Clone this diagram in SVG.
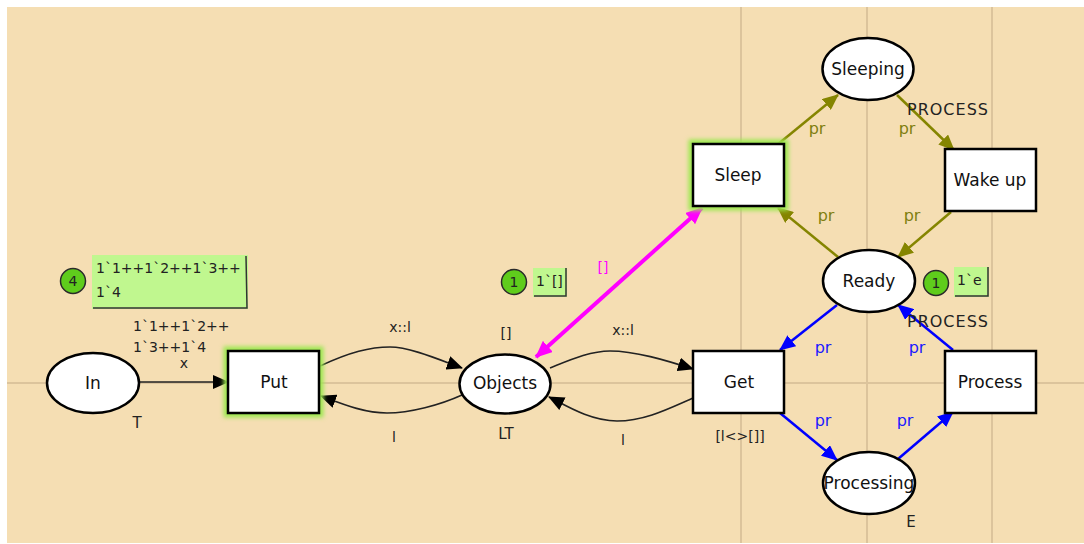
<svg xmlns="http://www.w3.org/2000/svg" width="1084" height="544" viewBox="0 0 1084 544">
<style>
.node{fill:#fff;stroke:#000;stroke-width:2.5}
.lbl{font-family:"DejaVu Sans",sans-serif;font-size:17px;fill:#111;text-anchor:middle}
.t{font-family:"DejaVu Sans",sans-serif;font-size:14px;fill:#222}
.c{text-anchor:middle}
.ol{fill:#7f7f10}
.bl{fill:#1a1aff}
.arcK{fill:none;stroke:#222;stroke-width:1.6}
.arcO{fill:none;stroke:#858500;stroke-width:2.5}
.arcB{fill:none;stroke:#0000ff;stroke-width:2.5}
.tokc{fill:#5fcc1c;stroke:#2a2a2a;stroke-width:1.5}
.tokb{fill:#c0f78f}
.tokl{fill:none;stroke:#333;stroke-width:1.5}
.glow{fill:none;stroke:#9be84f;stroke-width:9;filter:url(#blur)}
.grid{stroke:#dcc49c;stroke-width:2}
</style>
<defs>
<filter id="blur" x="-20%" y="-20%" width="140%" height="140%"><feGaussianBlur stdDeviation="2"/></filter>
<marker id="ak" viewBox="0 0 16 14" refX="15" refY="7" markerWidth="16" markerHeight="14" markerUnits="userSpaceOnUse" orient="auto"><path d="M0,0 L16,7 L0,14 z" fill="#000"/></marker>
<marker id="ao" viewBox="0 0 16 14" refX="15" refY="7" markerWidth="16" markerHeight="14" markerUnits="userSpaceOnUse" orient="auto"><path d="M0,0 L16,7 L0,14 z" fill="#858500"/></marker>
<marker id="ab" viewBox="0 0 16 14" refX="15" refY="7" markerWidth="16" markerHeight="14" markerUnits="userSpaceOnUse" orient="auto"><path d="M0,0 L16,7 L0,14 z" fill="#0000ff"/></marker>
<marker id="am" viewBox="0 0 16 14" refX="15" refY="7" markerWidth="17" markerHeight="15" markerUnits="userSpaceOnUse" orient="auto-start-reverse"><path d="M0,0 L16,7 L0,14 z" fill="#ff00ff"/></marker>
</defs>
<rect x="0" y="0" width="1084" height="544" fill="#fff"/>
<rect x="7" y="7" width="1077" height="536" fill="#f5deb3"/>
<g id="grid">
<line class="grid" x1="7" y1="383" x2="1084" y2="383"/>
<line class="grid" x1="741" y1="7" x2="741" y2="543"/>
<line class="grid" x1="867" y1="7" x2="867" y2="543"/>
<line class="grid" x1="992" y1="7" x2="992" y2="543"/>
</g>
<g id="connectors">
<line class="arcK" x1="139" y1="382" x2="228" y2="382" marker-end="url(#ak)"/>
<path class="arcK" d="M320,366 C350,352 370,347 390,347 C410,347 440,360 462,368" marker-end="url(#ak)"/>
<path class="arcK" d="M462,395 C440,405 410,413 387,413 C365,413 345,405 321,396" marker-end="url(#ak)"/>
<path class="arcK" d="M550,368 C570,360 590,351 610,351 C635,351 665,360 693,369" marker-end="url(#ak)"/>
<path class="arcK" d="M693,398 C670,408 645,421 617,421 C590,421 565,405 549,397" marker-end="url(#ak)"/>
<line x1="536" y1="357" x2="702" y2="208" stroke="#ff00ff" stroke-width="4" marker-start="url(#am)" marker-end="url(#am)"/>
<line class="arcO" x1="777" y1="145" x2="838" y2="95" marker-end="url(#ao)"/>
<line class="arcO" x1="897" y1="95" x2="954" y2="150" marker-end="url(#ao)"/>
<line class="arcO" x1="951" y1="212" x2="898" y2="257" marker-end="url(#ao)"/>
<line class="arcO" x1="838" y1="257" x2="778" y2="208" marker-end="url(#ao)"/>
<line class="arcB" x1="837" y1="305" x2="780" y2="350" marker-end="url(#ab)"/>
<line class="arcB" x1="780" y1="413" x2="837" y2="460" marker-end="url(#ab)"/>
<line class="arcB" x1="898" y1="459" x2="953" y2="412" marker-end="url(#ab)"/>
<line class="arcB" x1="953" y1="350" x2="898" y2="305" marker-end="url(#ab)"/>
<text class="t c" x="400" y="332">x::l</text>
<text class="t c" x="394" y="442">l</text>
<text class="t c" x="623" y="335">x::l</text>
<text class="t c" x="623" y="445">l</text>
<text class="t c" x="184" y="368">x</text>
<text class="t c" x="603" y="272" style="fill:#ff00ff;font-size:14px">[]</text>
<text class="t c ol" x="817" y="134" style="font-size:16px">pr</text>
<text class="t c ol" x="907" y="134" style="font-size:16px">pr</text>
<text class="t c ol" x="826" y="221" style="font-size:16px">pr</text>
<text class="t c ol" x="912" y="221" style="font-size:16px">pr</text>
<text class="t c bl" x="823" y="353" style="font-size:16px">pr</text>
<text class="t c bl" x="917" y="353" style="font-size:16px">pr</text>
<text class="t c bl" x="823" y="426" style="font-size:16px">pr</text>
<text class="t c bl" x="905" y="426" style="font-size:16px">pr</text>
</g>
<g id="In">
<ellipse class="node" cx="93" cy="383" rx="46" ry="30"/>
<text class="lbl" x="93" y="389">In</text>
<text class="t c" x="137" y="428" style="font-size:15px">T</text>
<g id="In-marking">
<circle class="tokc" cx="73" cy="281" r="12.5"/>
<text class="t c" x="73" y="286">4</text>
<rect class="tokb" x="92" y="255" width="156" height="54"/>
<polyline class="tokl" points="246,256 247,308 93,308"/>
<text class="t" x="96" y="273">1`1++1`2++1`3++</text>
<text class="t" x="96" y="297">1`4</text>
</g>
<text class="t" x="133" y="331">1`1++1`2++</text>
<text class="t" x="133" y="352">1`3++1`4</text>
</g>
<g id="Put">
<rect class="glow" x="228" y="351" width="91" height="62"/>
<rect class="node" x="228" y="351" width="91" height="62"/>
<text class="lbl" x="274" y="388">Put</text>
</g>
<g id="Objects">
<ellipse class="node" cx="505" cy="384" rx="45.5" ry="29.5"/>
<text class="lbl" x="505" y="389">Objects</text>
<text class="t c" x="506" y="338">[]</text>
<text class="t c" x="506" y="439" style="font-size:15px">LT</text>
<g id="Objects-marking">
<circle class="tokc" cx="514" cy="282" r="12.5"/>
<text class="t c" x="514" y="287">1</text>
<rect class="tokb" x="533" y="268" width="34" height="29"/>
<polyline class="tokl" points="566,268 566,296 534,296"/>
<text class="t" x="536" y="286">1`[]</text>
</g>
</g>
<g id="Get">
<rect class="node" x="693" y="351" width="91" height="62"/>
<text class="lbl" x="739" y="388">Get</text>
<text class="t c" x="740" y="441">[l&lt;&gt;[]]</text>
</g>
<g id="Sleep">
<rect class="glow" x="693" y="144" width="91" height="62"/>
<rect class="node" x="693" y="144" width="91" height="62"/>
<text class="lbl" x="738" y="181">Sleep</text>
</g>
<g id="Sleeping">
<ellipse class="node" cx="868" cy="69" rx="45.5" ry="31"/>
<text class="lbl" x="868" y="75">Sleeping</text>
<text class="t" x="907" y="115" style="font-size:16px;letter-spacing:1px">PROCESS</text>
</g>
<g id="Wakeup">
<rect class="node" x="945" y="149" width="91" height="62"/>
<text class="lbl" x="990" y="186">Wake up</text>
</g>
<g id="Ready">
<ellipse class="node" cx="869" cy="281" rx="46" ry="31"/>
<text class="lbl" x="869" y="287">Ready</text>
<text class="t" x="907" y="327" style="font-size:16px;letter-spacing:1px">PROCESS</text>
<g id="Ready-marking">
<circle class="tokc" cx="936" cy="283" r="12.5"/>
<text class="t c" x="936" y="288">1</text>
<rect class="tokb" x="954" y="267" width="35" height="30"/>
<polyline class="tokl" points="988,267 988,296 955,296"/>
<text class="t" x="957" y="285">1`e</text>
</g>
</g>
<g id="Process">
<rect class="node" x="945" y="351" width="91" height="62"/>
<text class="lbl" x="990" y="388">Process</text>
</g>
<g id="Processing">
<ellipse class="node" cx="869" cy="483" rx="46" ry="31"/>
<text class="lbl" x="869" y="489">Processing</text>
<text class="t c" x="911" y="527" style="font-size:15px">E</text>
</g>
</svg>
